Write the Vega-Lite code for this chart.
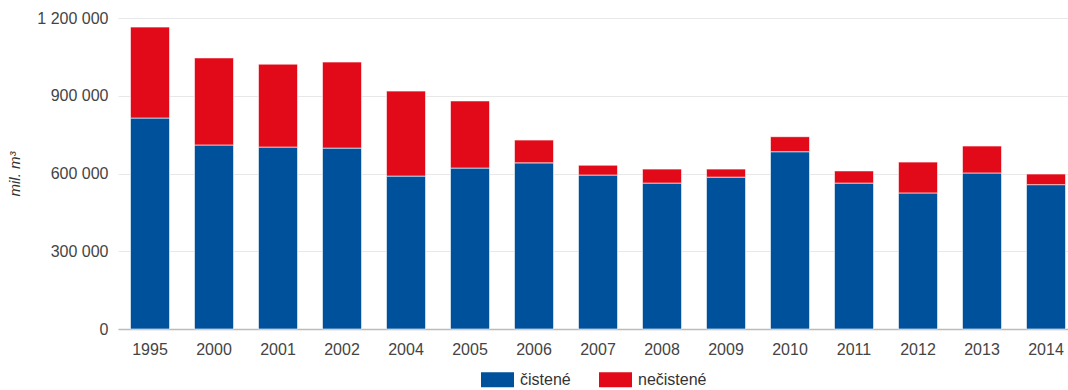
{
  "$schema": "https://vega.github.io/schema/vega-lite/v6.json",
  "autosize": "none",
  "width": 960,
  "height": 311,
  "padding": {"left": 118, "top": 18, "right": 0, "bottom": 61},
  "background": "white",
  "config": {
    "locale": {"number": {"decimal": ",", "thousands": " ", "grouping": [3], "currency": ["", " €"]}},
    "font": "Liberation Sans",
    "view": {"stroke": null}
  },
  "data": {
    "values": [
      {"rok": "1995", "typ": "čistené", "objem": 814000},
      {"rok": "1995", "typ": "nečistené", "objem": 351000},
      {"rok": "2000", "typ": "čistené", "objem": 710000},
      {"rok": "2000", "typ": "nečistené", "objem": 336000},
      {"rok": "2001", "typ": "čistené", "objem": 702000},
      {"rok": "2001", "typ": "nečistené", "objem": 320000},
      {"rok": "2002", "typ": "čistené", "objem": 698000},
      {"rok": "2002", "typ": "nečistené", "objem": 332000},
      {"rok": "2004", "typ": "čistené", "objem": 590000},
      {"rok": "2004", "typ": "nečistené", "objem": 328000},
      {"rok": "2005", "typ": "čistené", "objem": 621000},
      {"rok": "2005", "typ": "nečistené", "objem": 259000},
      {"rok": "2006", "typ": "čistené", "objem": 641000},
      {"rok": "2006", "typ": "nečistené", "objem": 88000},
      {"rok": "2007", "typ": "čistené", "objem": 594000},
      {"rok": "2007", "typ": "nečistené", "objem": 38000},
      {"rok": "2008", "typ": "čistené", "objem": 563000},
      {"rok": "2008", "typ": "nečistené", "objem": 54000},
      {"rok": "2009", "typ": "čistené", "objem": 586000},
      {"rok": "2009", "typ": "nečistené", "objem": 31000},
      {"rok": "2010", "typ": "čistené", "objem": 684000},
      {"rok": "2010", "typ": "nečistené", "objem": 58000},
      {"rok": "2011", "typ": "čistené", "objem": 563000},
      {"rok": "2011", "typ": "nečistené", "objem": 47000},
      {"rok": "2012", "typ": "čistené", "objem": 525000},
      {"rok": "2012", "typ": "nečistené", "objem": 119000},
      {"rok": "2013", "typ": "čistené", "objem": 602000},
      {"rok": "2013", "typ": "nečistené", "objem": 104000},
      {"rok": "2014", "typ": "čistené", "objem": 557000},
      {"rok": "2014", "typ": "nečistené", "objem": 41000}
    ]
  },
  "mark": {"type": "bar", "stroke": "white", "strokeWidth": 1, "strokeOpacity": 0.6},
  "encoding": {
    "x": {
      "field": "rok", "type": "ordinal",
      "scale": {"paddingInner": 0.39, "paddingOuter": 0.195},
      "axis": {"title": null, "labelAngle": 0, "labelFontSize": 16, "labelColor": "#444", "ticks": false, "labelPadding": 12, "domainColor": "#bbb", "domainWidth": 1.5}
    },
    "y": {
      "field": "objem", "type": "quantitative", "stack": "zero",
      "scale": {"domain": [0, 1200000], "nice": false},
      "axis": {"title": "mil. m³", "titleFontStyle": "italic", "titleFontWeight": "normal", "titleFontSize": 15, "titleColor": "#333", "titlePadding": 14,
        "values": [0, 300000, 600000, 900000, 1200000], "format": ",d", "labelFontSize": 16, "labelColor": "#444", "labelPadding": 10,
        "ticks": false, "domain": false, "gridColor": "#e8e8e8"}
    },
    "color": {
      "field": "typ", "type": "nominal",
      "scale": {"domain": ["čistené", "nečistené"], "range": ["#00519b", "#e20a18"]},
      "legend": {"title": null, "orient": "none", "legendX": 363, "legendY": 345, "direction": "horizontal", "labelFontSize": 16, "labelColor": "#333",
        "symbolType": "M-1,-0.4545L1,-0.4545L1,0.4545L-1,0.4545Z", "symbolSize": 1089, "symbolStrokeWidth": 0, "columnPadding": 28, "labelOffset": 6}
    },
    "order": {"field": "typ", "sort": "descending"}
  }
}
